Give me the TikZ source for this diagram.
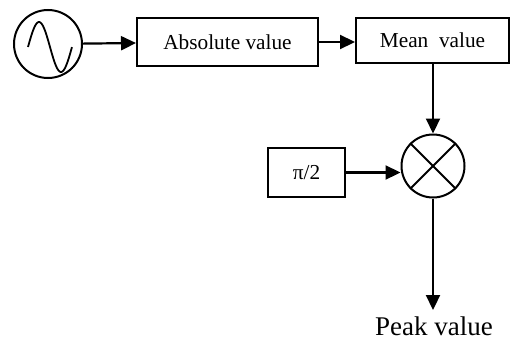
\documentclass[tikz,border=0pt]{standalone}
\usepackage{fontspec}
\setmainfont{Liberation Serif}
\usetikzlibrary{arrows.meta}
\tikzset{
  blk/.style={draw, line width=2pt, rectangle, inner sep=0pt},
  rnd/.style={draw, line width=2pt, circle, inner sep=0pt},
  arr/.style={line width=2.2pt, -{Triangle[length=15pt,width=14pt]}}
}
\begin{document}
\begin{tikzpicture}[x=1pt,y=-1pt]
      \useasboundingbox (0,0) rectangle (510,343);
%
      \node[rnd, minimum size=68pt] (src) at (48,44) {};
      \draw[line width=1.8pt, domain=0:1, samples=60, smooth]
        plot ({28+44*\x}, {47-25*sin(360*\x)});
%
      \node[blk, minimum width=181pt, minimum height=48pt] (absv) at (227.5,42)
        {\fontsize{21.3}{25}\selectfont Absolute value};
      \node[blk, minimum width=153pt, minimum height=45pt] (mean) at (432.5,40.5)
        {\fontsize{21.3}{25}\selectfont Mean\ \ value};
%
      \node[rnd, minimum size=63pt] (mult) at (433,166) {};
      \draw[line width=1.8pt] (mult.north west) -- (mult.south east);
      \draw[line width=1.8pt] (mult.north east) -- (mult.south west);
%
      \node[blk, minimum width=77pt, minimum height=49pt] (half) at (306.5,172.5)
        {\fontsize{21.3}{25}\selectfont π/2};
%
      \coordinate (out) at (433,310);
      \node[inner sep=0pt, anchor=base] (peak) at (434,335)
        {\fontsize{27}{30}\selectfont Peak value};
%
      \draw[arr] (src) -- (absv);
      \draw[arr] (absv) -- (absv -| mean.west);
      \draw[arr] (mean.south -| mult.north) -- (mult.north);
      \draw[arr] (half.east) -- (half.east -| mult.west);
      \draw[arr] (mult.south) -- (out);
%
\end{tikzpicture}
\end{document}
